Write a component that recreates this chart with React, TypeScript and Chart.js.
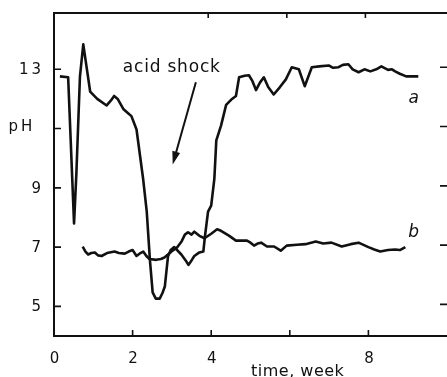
import React, { useEffect, useRef } from "react";
import { Chart, registerables } from "chart.js";

Chart.register(...registerables);

// Curve a: time (week) and pH
const aTime = [0.15, 0.36, 0.51, 0.57, 0.66, 0.745, 0.92, 1.1, 1.34, 1.45, 1.53, 1.62, 1.77, 1.9, 1.97, 2.1, 2.27, 2.36, 2.44, 2.51, 2.59, 2.69, 2.76, 2.82, 2.9, 2.97, 3.06, 3.24, 3.35, 3.42, 3.5, 3.57, 3.7, 3.8, 3.84, 3.92, 4.0, 4.08, 4.13, 4.25, 4.38, 4.53, 4.63, 4.71, 4.85, 4.96, 5.05, 5.14, 5.24, 5.34, 5.45, 5.59, 5.75, 5.9, 6.05, 6.23, 6.38, 6.56, 6.75, 6.99, 7.1, 7.24, 7.35, 7.49, 7.6, 7.75, 7.9, 8.05, 8.2, 8.33, 8.5, 8.6, 8.68, 8.8, 8.96, 9.27];
const aPH = [12.76, 12.73, 7.8, 9.5, 12.75, 13.84, 12.25, 12.0, 11.78, 11.95, 12.1, 12.0, 11.65, 11.5, 11.42, 10.97, 9.28, 8.2, 6.58, 5.47, 5.26, 5.26, 5.45, 5.67, 6.68, 6.9, 7.0, 6.75, 6.55, 6.4, 6.55, 6.7, 6.82, 6.85, 7.35, 8.2, 8.4, 9.3, 10.6, 11.1, 11.8, 12.0, 12.1, 12.73, 12.78, 12.8, 12.6, 12.3, 12.55, 12.73, 12.4, 12.15, 12.4, 12.66, 13.07, 13.0, 12.43, 13.07, 13.1, 13.13, 13.05, 13.07, 13.15, 13.17, 13.0, 12.9, 13.0, 12.93, 13.0, 13.1, 12.98, 13.0, 12.93, 12.85, 12.76, 12.76];

// Curve b: time (week) and pH
const bTime = [0.73, 0.8, 0.87, 0.95, 1.04, 1.12, 1.21, 1.35, 1.54, 1.65, 1.8, 1.9, 2.0, 2.1, 2.2, 2.27, 2.35, 2.43, 2.6, 2.72, 2.81, 2.99, 3.14, 3.25, 3.33, 3.41, 3.5, 3.57, 3.7, 3.83, 4.0, 4.15, 4.25, 4.46, 4.63, 4.91, 5.0, 5.09, 5.18, 5.27, 5.42, 5.6, 5.77, 5.92, 6.18, 6.4, 6.66, 6.85, 7.06, 7.32, 7.55, 7.75, 8.0, 8.15, 8.3, 8.5, 8.68, 8.8, 8.94];
const bPH = [7.02, 6.85, 6.75, 6.8, 6.82, 6.72, 6.7, 6.8, 6.85, 6.8, 6.78, 6.85, 6.9, 6.7, 6.8, 6.85, 6.7, 6.6, 6.57, 6.6, 6.65, 6.85, 7.0, 7.2, 7.42, 7.5, 7.42, 7.52, 7.38, 7.3, 7.45, 7.6, 7.55, 7.38, 7.22, 7.22, 7.15, 7.05, 7.12, 7.15, 7.02, 7.02, 6.88, 7.05, 7.08, 7.1, 7.19, 7.12, 7.15, 7.02, 7.1, 7.15, 7.0, 6.92, 6.85, 6.9, 6.92, 6.9, 7.0];

// Axis ticks and labels
const xTickValues = [0, 2, 4, 6, 8];
const xTickLabels = ["0", "2", "4", "", "8"];
const xTopTicks = [4, 6, 8];
const yTickValues = [5, 7, 9, 11, 13];
const yTickLabels = ["5", "7", "9", "pH", "13"];
const xTitle = "time, week";
const annotationText = "acid shock";
const seriesNames = ["a", "b"];

const toPoints = (xs: number[], ys: number[]) => xs.map((x, i) => ({ x, y: ys[i] }));

const decorPlugin = {
  id: "decor",
  afterDraw(chart: any) {
    const { ctx, chartArea } = chart;
    const xs = chart.scales.x;
    const ys = chart.scales.y;
    const W = chart.width;
    ctx.save();
    ctx.strokeStyle = "#111";
    ctx.fillStyle = "#111";
    ctx.lineWidth = 2;
    ctx.lineCap = "butt";
    const x0 = xs.getPixelForValue(0);
    // frame
    ctx.beginPath();
    ctx.moveTo(W, chartArea.top);
    ctx.lineTo(x0, chartArea.top);
    ctx.lineTo(x0, chartArea.bottom);
    ctx.lineTo(W, chartArea.bottom);
    ctx.stroke();
    // y ticks (left and right, inward)
    ctx.lineWidth = 1.6;
    yTickValues.forEach((v) => {
      const py = ys.getPixelForValue(v);
      ctx.beginPath();
      ctx.moveTo(x0, py);
      ctx.lineTo(x0 + 7, py);
      ctx.moveTo(chartArea.right - 7, py - 2);
      ctx.lineTo(chartArea.right, py - 2);
      ctx.stroke();
    });
    // x ticks bottom
    xTickValues.forEach((v) => {
      if (v === 0) return;
      const px = xs.getPixelForValue(v);
      ctx.beginPath();
      ctx.moveTo(px, chartArea.bottom);
      ctx.lineTo(px, chartArea.bottom - 6);
      ctx.stroke();
    });
    xTopTicks.forEach((v) => {
      const px = xs.getPixelForValue(v) - 3;
      ctx.beginPath();
      ctx.moveTo(px, chartArea.top);
      ctx.lineTo(px, chartArea.top + 5);
      ctx.stroke();
    });
    // tick labels
    ctx.font = "15px 'DejaVu Sans'";
    (ctx as any).letterSpacing = "3px";
    ctx.textBaseline = "middle";
    yTickValues.forEach((v, i) => {
      const py = ys.getPixelForValue(v);
      const lbl = yTickLabels[i];
      if (lbl === "pH") {
        ctx.textAlign = "center";
        ctx.fillText(lbl, 22, py - 1);
      } else {
        ctx.textAlign = "right";
        ctx.fillText(lbl, x0 - 10, py + 1);
      }
    });
    ctx.textAlign = "center";
    xTickValues.forEach((v, i) => {
      const lbl = xTickLabels[i];
      if (!lbl) return;
      ctx.fillText(lbl, xs.getPixelForValue(v) + 2, chartArea.bottom + 23);
    });
    // x title (in place of the 6 label)
    (ctx as any).letterSpacing = "0.5px";
    ctx.font = "16px 'DejaVu Sans'";
    ctx.fillText(xTitle, xs.getPixelForValue(6.2), chartArea.bottom + 36);
    // annotation
    ctx.font = "17px 'DejaVu Sans'";
    (ctx as any).letterSpacing = "0.8px";
    ctx.textAlign = "left";
    ctx.fillText(annotationText, xs.getPixelForValue(1.75), ys.getPixelForValue(13.05));
    // arrow
    const ax1 = xs.getPixelForValue(3.61);
    const ay1 = ys.getPixelForValue(12.56);
    const ax2 = xs.getPixelForValue(3.02);
    const ay2 = ys.getPixelForValue(9.79);
    const ang = Math.atan2(ay2 - ay1, ax2 - ax1);
    ctx.lineWidth = 2;
    ctx.beginPath();
    ctx.moveTo(ax1, ay1);
    ctx.lineTo(ax2 - 8 * Math.cos(ang), ay2 - 8 * Math.sin(ang));
    ctx.stroke();
    ctx.beginPath();
    ctx.moveTo(ax2, ay2);
    ctx.lineTo(ax2 - 13 * Math.cos(ang) + 4 * Math.sin(ang), ay2 - 13 * Math.sin(ang) - 4 * Math.cos(ang));
    ctx.lineTo(ax2 - 13 * Math.cos(ang) - 4 * Math.sin(ang), ay2 - 13 * Math.sin(ang) + 4 * Math.cos(ang));
    ctx.closePath();
    ctx.fill();
    // series labels
    (ctx as any).letterSpacing = "0px";
    ctx.font = "italic 17px 'DejaVu Sans'";
    ctx.textAlign = "center";
    ctx.fillText(seriesNames[0], xs.getPixelForValue(9.15), ys.getPixelForValue(12.0));
    ctx.fillText(seriesNames[1], xs.getPixelForValue(9.15), ys.getPixelForValue(7.48));
    ctx.restore();
  },
};

export default function App() {
  const ref = useRef<HTMLCanvasElement | null>(null);
  useEffect(() => {
    if (!ref.current) return;
    const chart = new Chart(ref.current, {
      type: "line",
      data: {
        datasets: [
          {
            label: seriesNames[0],
            data: toPoints(aTime, aPH),
            borderColor: "#111",
            borderWidth: 2.6,
            pointRadius: 0,
            tension: 0,
            borderJoinStyle: "round",
            fill: false,
          },
          {
            label: seriesNames[1],
            data: toPoints(bTime, bPH),
            borderColor: "#111",
            borderWidth: 2.6,
            pointRadius: 0,
            tension: 0,
            borderJoinStyle: "round",
            fill: false,
          },
        ],
      },
      options: {
        responsive: false,
        animation: false,
        devicePixelRatio: 1,
        layout: { padding: { left: 54, top: 13, right: 0, bottom: 41 } },
        plugins: { legend: { display: false }, tooltip: { enabled: false } },
        scales: {
          x: { type: "linear", min: 0, max: 10, display: false },
          y: { type: "linear", min: 4, max: 14.9, display: false },
        },
      },
      plugins: [decorPlugin],
    });
    return () => chart.destroy();
  }, []);
  return (
    <div style={{ position: "absolute", left: 0, top: 0, width: 447, height: 377, background: "#fff" }}>
      <canvas ref={ref} width={447} height={377} style={{ width: 447, height: 377, display: "block" }} />
    </div>
  );
}
